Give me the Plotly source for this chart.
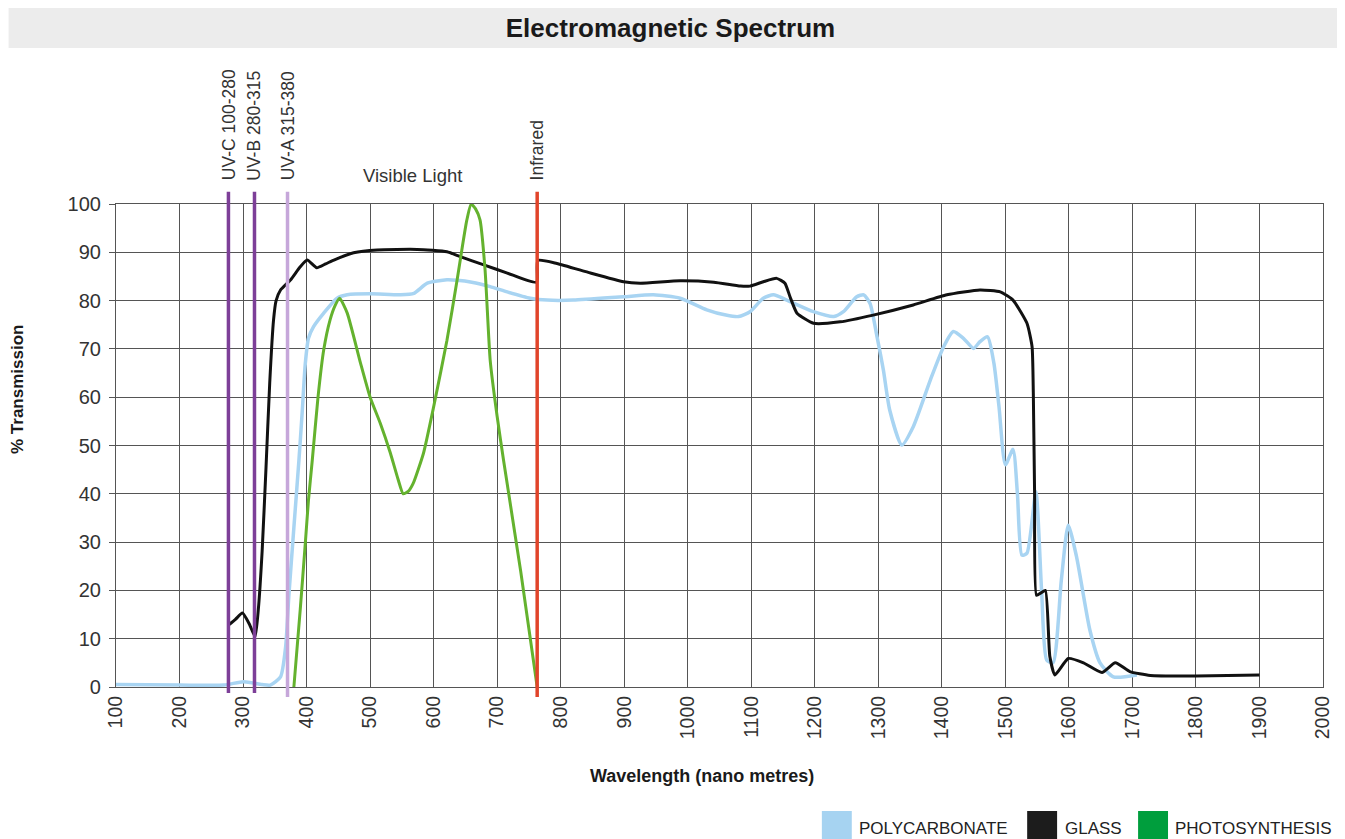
import plotly.graph_objects as go

# ---------------- data ----------------
poly_x = [100, 200, 270, 301, 330, 343, 359, 367, 372, 380, 388, 393, 398, 403, 411, 427, 448, 464,
          500, 548, 569, 590, 621, 637, 660, 689, 716, 752, 779, 820, 899, 946, 988, 1030, 1060,
          1080, 1098, 1119, 1135, 1156, 1198, 1230, 1245, 1266, 1277, 1287, 1298, 1308, 1318, 1337,
          1355, 1382, 1403, 1418, 1434, 1450, 1460, 1472, 1482, 1490, 1500, 1512, 1519, 1526, 1534,
          1548, 1557, 1565, 1575, 1588, 1599, 1612, 1633, 1649, 1670, 1707]
poly_y = [0.5, 0.4, 0.4, 1.1, 0.5, 0.4, 2.1, 8.3, 18.7, 33, 47, 56.7, 67, 72.2, 74.6, 77.4, 80.5, 81.2,
          81.4, 81.2, 81.5, 83.6, 84.3, 84.2, 83.8, 82.9, 81.8, 80.5, 80.1, 80.1, 80.8, 81.2, 80.5, 78.1, 77,
          76.7, 77.7, 80.5, 81.2, 80.1, 77.7, 76.7, 77.7, 80.8, 81.2, 79.4, 72.5, 65.6, 57.3, 50.1,
          53.9, 63.6, 70.5, 73.6, 72.2, 70.1, 71.5, 72.5, 67, 58, 46, 49.2, 40, 27.3, 27.7,
          40.4, 20, 5.6, 5, 22, 33.5, 27, 11.8, 5, 2.1, 2.5]

glass_x = [277, 288, 299, 310, 319, 324, 330, 336, 342, 348, 352, 359, 375, 390, 401, 416, 430, 443,
           474, 511, 574, 621, 642, 679, 716, 762, 764, 794, 847, 899, 925, 988, 1041, 1083, 1098,
           1119, 1140, 1153, 1161, 1172, 1198, 1240, 1292, 1355, 1408, 1460, 1492, 1512, 1534, 1542,
           1544, 1546, 1549, 1556, 1563, 1570, 1578, 1599, 1623, 1652, 1673, 1696, 1728, 1800, 1900]
glass_y = [12.8, 14, 15.3, 13, 10.4, 16, 28, 45, 63, 76, 80, 82.2, 84.3, 87, 88.4, 86.8, 87.6, 88.4,
           89.9, 90.5, 90.6, 90.1, 89.1, 87.4, 85.7, 83.8, 88.3, 87.7, 85.7, 83.9, 83.6, 84.1, 83.8, 83, 83,
           83.9, 84.6, 83.6, 80.8, 77.4, 75.3, 75.6, 77, 79.1, 81.2, 82.2, 81.8, 80.1, 75.3, 70.5,
           60.8, 40, 19, 19.5, 20, 6.3, 2.5, 5.9, 5, 3, 5, 3.2, 2.4, 2.3, 2.5]

photo_x = [380, 390, 398, 403, 409, 418, 427, 437, 445, 452, 464, 485, 500, 516, 532, 544, 552, 560,
           568, 584, 600, 621, 637, 645, 652, 659, 666, 673, 681, 689, 700, 710, 737, 763]
photo_y = [0, 16, 29.8, 38.7, 47, 60, 69.8, 76, 79, 80.5, 77.4, 67, 60, 54.6, 48.4, 43, 40, 40.5,
           42.2, 48.4, 58, 71.8, 84.3, 91, 96.5, 100, 99, 96.7, 86.3, 67.7, 56, 47, 24, 0]

band_names = ["UV-C 100-280", "UV-B 280-315", "UV-A 315-380", "Infrared"]
band_x = [277, 318, 370, 763]
band_colors = ["#7d3f98", "#7d3f98", "#c6a7da", "#e1442a"]

series_names = ["POLYCARBONATE", "GLASS", "PHOTOSYNTHESIS"]
legend_colors = ["#a6d3f1", "#1c1c1c", "#009e3d"]

x_ticks = list(range(100, 2001, 100))
y_ticks = list(range(0, 101, 10))

FONT = "Liberation Sans, Arial, sans-serif"
GRID = "#555555"

fig = go.Figure()
fig.add_trace(go.Scatter(x=poly_x, y=poly_y, name=series_names[0], mode="lines",
                         line=dict(color="#a8d4f2", width=3.5, shape="spline", smoothing=0.6),
                         cliponaxis=False, showlegend=False))
fig.add_trace(go.Scatter(x=glass_x, y=glass_y, name=series_names[1], mode="lines",
                         line=dict(color="#111111", width=3, shape="spline", smoothing=0.5),
                         cliponaxis=False, showlegend=False))
fig.add_trace(go.Scatter(x=photo_x, y=photo_y, name=series_names[2], mode="lines",
                         line=dict(color="#64b22e", width=3, shape="spline", smoothing=0.5),
                         cliponaxis=False, showlegend=False))

shapes = []
annotations = []

# title band
shapes.append(dict(type="rect", xref="paper", yref="paper", x0=-0.089, x1=1.0124, y0=1.323, y1=1.414,
                   fillcolor="#ececec", line=dict(width=0), layer="below"))

# spectrum band lines and labels
for name, bx, col in zip(band_names, band_x, band_colors):
    y0 = -0.0124 if bx < 330 else -0.0207
    shapes.append(dict(type="line", xref="x", yref="paper", x0=bx, x1=bx, y0=y0, y1=1.0255,
                       line=dict(color=col, width=3.5), layer="above"))
    annotations.append(dict(x=bx, y=1.045, xref="x", yref="paper", text=name, textangle=-90,
                            showarrow=False, xanchor="center", yanchor="bottom",
                            font=dict(family=FONT, size=17.5, color="#333333")))

annotations.append(dict(x=566, y=1.058, xref="x", yref="paper", text="Visible Light",
                        showarrow=False, xanchor="center", yanchor="middle",
                        font=dict(family=FONT, size=18.5, color="#333333")))

# axis titles
annotations.append(dict(x=-0.0812, y=0.617, xref="paper", yref="paper", text="<b>% Transmission</b>",
                        textangle=-90, showarrow=False, xanchor="center", yanchor="middle",
                        font=dict(family=FONT, size=17, color="#1a1a1a")))
annotations.append(dict(x=0.4857, y=-0.1843, xref="paper", yref="paper",
                        text="<b>Wavelength (nano metres)</b>",
                        showarrow=False, xanchor="center", yanchor="middle",
                        font=dict(family=FONT, size=18, color="#1a1a1a")))

# legend (manual, large squares)
sq_x0 = [0.5848, 0.7549, 0.8468]
for name, col, x0 in zip(series_names, legend_colors, sq_x0):
    shapes.append(dict(type="rect", xref="paper", yref="paper", x0=x0, x1=x0 + 0.0248,
                       y0=-0.33, y1=-0.2567, fillcolor=col, line=dict(width=0)))
    annotations.append(dict(x=x0 + 0.0293, y=-0.292, xref="paper", yref="paper", text=name,
                            showarrow=False, xanchor="left", yanchor="middle",
                            font=dict(family=FONT, size=17, color="#222222")))

fig.update_layout(
    width=1337, height=831,
    margin=dict(l=107.5, r=22, t=196, b=152),
    paper_bgcolor="white", plot_bgcolor="white",
    title=dict(text="<b>Electromagnetic Spectrum</b>", x=(670.5 - 8) / 1337, xref="container",
               xanchor="center", y=1 - 20 / 831, yref="container", yanchor="middle",
               font=dict(family=FONT, size=26, color="#1a1a1a")),
    shapes=shapes, annotations=annotations,
    font=dict(family=FONT),
)
fig.update_xaxes(range=[100, 2000], tickvals=x_ticks, ticktext=[str(v) for v in x_ticks],
                 tickangle=-90, showgrid=True, gridcolor=GRID, gridwidth=1.2,
                 showline=True, linecolor=GRID, linewidth=1.2, mirror=True, zeroline=False,
                 ticks="", tickfont=dict(family=FONT, size=19.5, color="#333333"))
fig.update_yaxes(range=[0, 100], tickvals=y_ticks, showgrid=True, gridcolor=GRID, gridwidth=1.2,
                 showline=True, linecolor=GRID, linewidth=1.2, mirror=True, zeroline=False,
                 ticks="outside", ticklen=6, tickcolor=GRID, tickwidth=1.2, ticklabelstandoff=4,
                 tickfont=dict(family=FONT, size=20, color="#333333"))

fig.write_html("out.html")
